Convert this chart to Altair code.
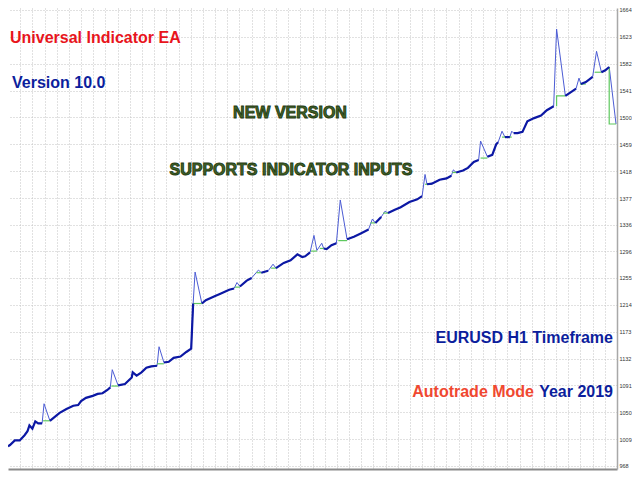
import altair as alt
import pandas as pd

# ---- data (balance units) ----
eq_x = [0, 2, 7, 12, 17, 20, 22, 25, 28, 31, 35, 37, 43, 48, 53, 60, 67, 72, 75, 80, 87, 92, 97, 102, 105, 107,
        113, 120, 127, 128, 132, 137, 142, 147, 153, 155, 160, 165, 170, 177, 183, 188, 190, 192, 199, 203, 212,
        218, 227, 232, 235, 238, 245, 250, 257, 260, 267, 272, 275, 283, 290, 297, 302, 305, 310, 314, 317, 322,
        324, 327, 332, 337, 341, 348, 355, 362, 370, 374, 377, 383, 387, 390, 397, 403, 412, 418, 420, 425, 428,
        430, 435, 443, 450, 455, 457, 460, 467, 472, 478, 483, 485, 492, 497, 501, 503, 507, 510, 515, 517, 519,
        523, 528, 533, 540, 547, 553, 560, 563, 572, 577, 583, 586, 588, 593, 600, 604, 609, 613, 617, 624]
eq_v = [998, 1000, 1007, 1007, 1015, 1021, 1030, 1025, 1036, 1033, 1033, 1063, 1037, 1043, 1049, 1055, 1060, 1061,
        1067, 1072, 1075, 1078, 1079, 1084, 1088, 1115, 1091, 1093, 1103, 1111, 1106, 1111, 1118, 1120, 1121, 1150,
        1126, 1127, 1133, 1135, 1142, 1147, 1216, 1264, 1216, 1221, 1227, 1231, 1237, 1239, 1248, 1242, 1251, 1255,
        1267, 1263, 1266, 1276, 1270, 1278, 1282, 1291, 1287, 1288, 1294, 1320, 1297, 1308, 1300, 1299, 1305, 1308,
        1374, 1314, 1318, 1323, 1329, 1345, 1339, 1348, 1357, 1354, 1359, 1363, 1371, 1374, 1375, 1380, 1413, 1398,
        1399, 1405, 1407, 1411, 1420, 1416, 1419, 1423, 1432, 1435, 1464, 1440, 1443, 1459, 1462, 1479, 1470, 1470,
        1479, 1476, 1476, 1478, 1494, 1499, 1503, 1511, 1517, 1635, 1533, 1538, 1544, 1560, 1551, 1554, 1562, 1601,
        1569, 1572, 1577, 1490]
spike_tops = [37, 107, 155, 192, 235, 257, 272, 314, 322, 341, 374, 387, 428, 457, 485, 507, 517, 563, 586, 604, 624]

green_x = [36, 43, 106, 113, 153, 160, 190, 199, 233, 238, 255, 260, 270, 275, 311, 317, 320, 324, 339, 348,
           372, 377, 385, 390, 428, 435, 456, 460, 485, 492, 507, 517, 563, 563, 572, 587, 593, 602, 609,
           617, 617, 624]
green_v = [1037, 1037, 1090, 1090, 1124, 1124, 1216, 1216, 1241, 1241, 1263, 1263, 1270, 1270, 1296, 1296,
           1300, 1300, 1312, 1312, 1339, 1339, 1354, 1354, 1398, 1398, 1416, 1416, 1438, 1438, 1470, 1470,
           1517, 1533, 1533, 1551, 1551, 1569, 1569, 1577, 1490, 1490]
green_seg = [0, 0, 1, 1, 2, 2, 3, 3, 4, 4, 5, 5, 6, 6, 7, 7, 8, 8, 9, 9, 10, 10, 11, 11, 12, 12, 13, 13,
             14, 14, 15, 15, 16, 16, 16, 17, 17, 18, 18, 19, 19, 19]

y_ticks = [968, 1009, 1050, 1091, 1132, 1173, 1214, 1255, 1296, 1336, 1377, 1418, 1459, 1500, 1541,
           1582, 1623, 1664]
x_grid = [12.5 * k for k in range(1, 50)]

texts = ["Universal Indicator EA", "Version 10.0", "NEW VERSION", "SUPPORTS INDICATOR INPUTS",
         "EURUSD H1 Timeframe", "Autotrade Mode", "Year 2019"]

# ---- tables ----
eq_df = pd.DataFrame({"x": eq_x, "v": eq_v, "i": range(len(eq_x))})

bal_rows = []
seg = 0
for i, (xx, vv) in enumerate(zip(eq_x, eq_v)):
    if xx in spike_tops:
        seg += 1
        continue
    bal_rows.append({"x": xx, "v": vv, "seg": seg, "i": i})
bal_df = pd.DataFrame(bal_rows)

green_df = pd.DataFrame({"x": green_x, "v": green_v, "seg": green_seg, "i": range(len(green_x))})

W, H = 609, 461
xs = alt.Scale(domain=[0, 625], nice=False, zero=False)
ys = alt.Scale(domain=[963.4, 1667.05], nice=False, zero=False)

grid_color = "#c2c2c2"
x_enc = alt.X("x:Q", scale=xs, title=None,
              axis=alt.Axis(values=x_grid, tickCount=500, labels=False, ticks=False, grid=True,
                            gridColor=grid_color, gridDash=[1, 2], gridWidth=1, domainColor="#8a8a8a",
                            domainWidth=2))
y_enc = alt.Y("v:Q", scale=ys, title=None,
              axis=alt.Axis(orient="right", values=y_ticks, tickCount=500, format="d", grid=True,
                            gridColor=grid_color, gridDash=[1, 2], gridWidth=1, ticks=False,
                            labelFontSize=5.5, labelColor="#333333", labelFont="Liberation Sans",
                            labelPadding=2, domainColor="#a8a8a8", domainWidth=1.5, labelFlush=False,
                            labelOverlap=False))

thin = alt.Chart(eq_df).mark_line(color="#4c5cd4", strokeWidth=1).encode(
    x=x_enc, y=y_enc, order="i:Q")
green = alt.Chart(green_df).mark_line(color="#5fc95f", strokeWidth=1.2).encode(
    x="x:Q", y="v:Q", detail="seg:N", order="i:Q")
thick = alt.Chart(bal_df).mark_line(color="#0c18a4", strokeWidth=2.2).encode(
    x="x:Q", y="v:Q", detail="seg:N", order="i:Q")

font = "Liberation Sans, Arial, sans-serif"
one = pd.DataFrame({"k": [0]})


def label(t, x, y, color, align, size=16):
    return alt.Chart(one).mark_text(text=t, x=x, y=y, align=align, baseline="alphabetic", font=font,
                                    fontWeight="bold", fontSize=size, color=color).encode(
        opacity=alt.value(1))


def outlined(t, x, y, size=16):
    return alt.Chart(one).mark_text(text=t, x=x, y=y, align="center", baseline="alphabetic", font=font,
                                    fontWeight="bold", fontSize=size, fill="#44642a", stroke="#1f3a10",
                                    strokeWidth=0.9).encode(opacity=alt.value(1))


# text positions are relative to the plot origin (page offset 8px)
layers = [thin, green, thick,
          label(texts[0], 2, 35, "#e8141c", "left"),
          label(texts[1], 4, 80, "#0c1e9c", "left"),
          outlined(texts[2], 282, 110),
          outlined(texts[3], 283, 167),
          label(texts[4], 605, 335, "#0c1e9c", "right"),
          label(texts[5], 526, 389, "#f04830", "right"),
          label(texts[6], 605, 389, "#0c1e9c", "right")]

chart = alt.layer(*layers).properties(
    width=W, height=H,
    autosize=alt.AutoSizeParams(type="none"),
    padding={"left": 0, "top": 0, "right": 15, "bottom": 3},
    background="white",
).configure_view(strokeWidth=0)

chart.save("out.html", embed_options={"renderer": "svg", "actions": False})
